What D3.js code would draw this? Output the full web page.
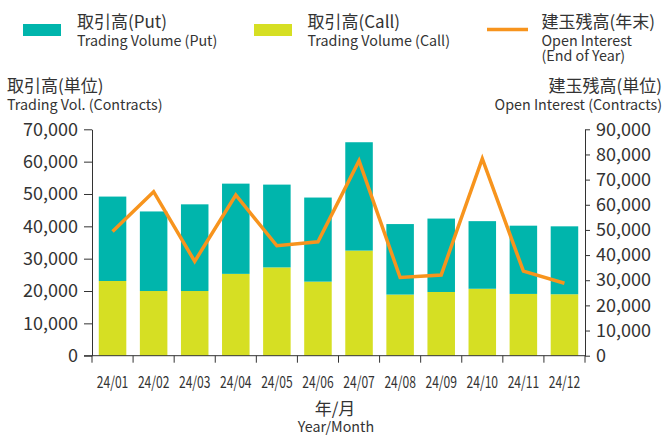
<!DOCTYPE html>
<html>
<head>
<meta charset="utf-8">
<script src="https://cdn.jsdelivr.net/npm/d3@7"></script>
<style>
  body { margin: 0; background: #fff; }
  svg text { font-family: "Noto Sans CJK JP", "Noto Sans", sans-serif; fill: #333; }
</style>
</head>
<body>
<div id="chart"></div>
<script>
const months = ['24/01', '24/02', '24/03', '24/04', '24/05', '24/06', '24/07', '24/08', '24/09', '24/10', '24/11', '24/12'];
const callVol = [23100, 20000, 20000, 25300, 27300, 22900, 32500, 18900, 19700, 20700, 19100, 19000];
const putVol = [26100, 24600, 26800, 27900, 25600, 26000, 33500, 21800, 22700, 20900, 21100, 21000];
const openInterest = [49400, 65200, 37500, 63900, 43700, 45300, 77500, 31100, 32100, 78300, 33600, 28800];
const leftTicks = [0, 10000, 20000, 30000, 40000, 50000, 60000, 70000];
const rightTicks = [0, 10000, 20000, 30000, 40000, 50000, 60000, 70000, 80000, 90000];

const W = 667, H = 435;
const putColor = '#00b5ac';
const callColor = '#d6df23';
const lineColor = '#f7941d';
const axisColor = '#333';

const svg = d3.select('#chart').append('svg')
    .attr('width', W)
    .attr('height', H);

const plot = {left: 92, right: 585, top: 129.3, bottom: 355.7};

const x = d3.scaleBand().domain(months).range([plot.left, plot.right]).paddingInner(0.33).paddingOuter(0.165);
const yL = d3.scaleLinear().domain([0, 70000]).range([plot.bottom, plot.top]);
const yR = d3.scaleLinear().domain([0, 90000]).range([plot.bottom, plot.top]);

// stacked bars
const rows = months.map((m, i) => ({month: m, call: callVol[i], put: putVol[i]}));
const stack = d3.stack().keys(['call', 'put'])(rows);
const colors = {call: callColor, put: putColor};

stack.forEach(layer => {
    svg.append('g').selectAll('rect')
        .data(layer)
        .join('rect')
        .attr('x', d => x(d.data.month))
        .attr('y', d => yL(d[1]))
        .attr('width', x.bandwidth())
        .attr('height', d => yL(d[0]) - yL(d[1]))
        .attr('fill', colors[layer.key]);
});

// open interest line
const line = d3.line()
    .x((d, i) => x(months[i]) + x.bandwidth() / 2)
    .y(d => yR(d));

svg.append('path')
    .datum(openInterest)
    .attr('d', line)
    .attr('fill', 'none')
    .attr('stroke', lineColor)
    .attr('stroke-width', 3.5)
    .attr('stroke-linejoin', 'miter');

// axes
const fmt = d3.format(',');
const leftAxis = svg.append('g')
    .attr('transform', `translate(${plot.left},0)`)
    .call(d3.axisLeft(yL).tickValues(leftTicks).tickFormat(fmt).tickSize(8).tickSizeOuter(0).tickPadding(6));
leftAxis.selectAll('text').attr('font-size', 18);

const rightAxis = svg.append('g')
    .attr('transform', `translate(${plot.right},0)`)
    .call(d3.axisRight(yR).tickValues(rightTicks).tickFormat(fmt).tickSize(5).tickSizeOuter(0).tickPadding(6));
rightAxis.selectAll('text').attr('font-size', 18);

// x axis: ticks at band boundaries
const bottom = svg.append('g');
bottom.append('line')
    .attr('x1', plot.left - 8).attr('x2', plot.right)
    .attr('y1', plot.bottom).attr('y2', plot.bottom)
    .attr('stroke', axisColor);
const step = x.step();
const edges = d3.range(months.length + 1).map(i => plot.left + i * step);
bottom.selectAll('line.tk')
    .data(edges)
    .join('line')
    .attr('class', 'tk')
    .attr('x1', d => d).attr('x2', d => d)
    .attr('y1', plot.bottom).attr('y2', plot.bottom + 7)
    .attr('stroke', axisColor);
bottom.selectAll('text')
    .data(months)
    .join('text')
    .attr('x', d => x(d) + x.bandwidth() / 2)
    .attr('y', 381)
    .attr('text-anchor', 'middle')
    .attr('dominant-baseline', 'central')
    .attr('font-size', 16)
    .attr('textLength', 31.5)
    .attr('lengthAdjust', 'spacingAndGlyphs')
    .text(d => d);

[leftAxis, rightAxis].forEach(a => {
    a.select('.domain').attr('stroke', axisColor);
    a.selectAll('.tick line').attr('stroke', axisColor);
    a.selectAll('text').style('fill', axisColor);
});

function label(xp, yp, text, size, anchor) {
    return svg.append('text')
        .attr('x', xp).attr('y', yp)
        .attr('font-size', size)
        .attr('text-anchor', anchor || 'start')
        .attr('dominant-baseline', 'central')
        .text(text);
}

// axis titles
label(7, 84, '取引高(単位)', 17);
label(7, 103.5, 'Trading Vol. (Contracts)', 14.3);
label(662, 84, '建玉残高(単位)', 17, 'end');
label(662, 103.5, 'Open Interest (Contracts)', 14.3, 'end');
label(335, 407, '年/月', 17, 'middle');
label(336, 425, 'Year/Month', 14.3, 'middle');

// legend
svg.append('rect').attr('x', 23).attr('y', 24).attr('width', 38).attr('height', 12).attr('fill', putColor);
label(77, 20, '取引高(Put)', 17);
label(77, 39.5, 'Trading Volume (Put)', 14.3);
svg.append('rect').attr('x', 254).attr('y', 24).attr('width', 38).attr('height', 12).attr('fill', callColor);
label(307.5, 20, '取引高(Call)', 17);
label(307.5, 39.5, 'Trading Volume (Call)', 14.3);
svg.append('line').attr('x1', 487).attr('x2', 528).attr('y1', 29.5).attr('y2', 29.5)
    .attr('stroke', lineColor).attr('stroke-width', 3.5);
label(541.5, 20, '建玉残高(年末)', 17);
label(541.5, 39.5, 'Open Interest', 14.3);
label(541.5, 54.5, '(End of Year)', 14.3);
</script>
</body>
</html>
